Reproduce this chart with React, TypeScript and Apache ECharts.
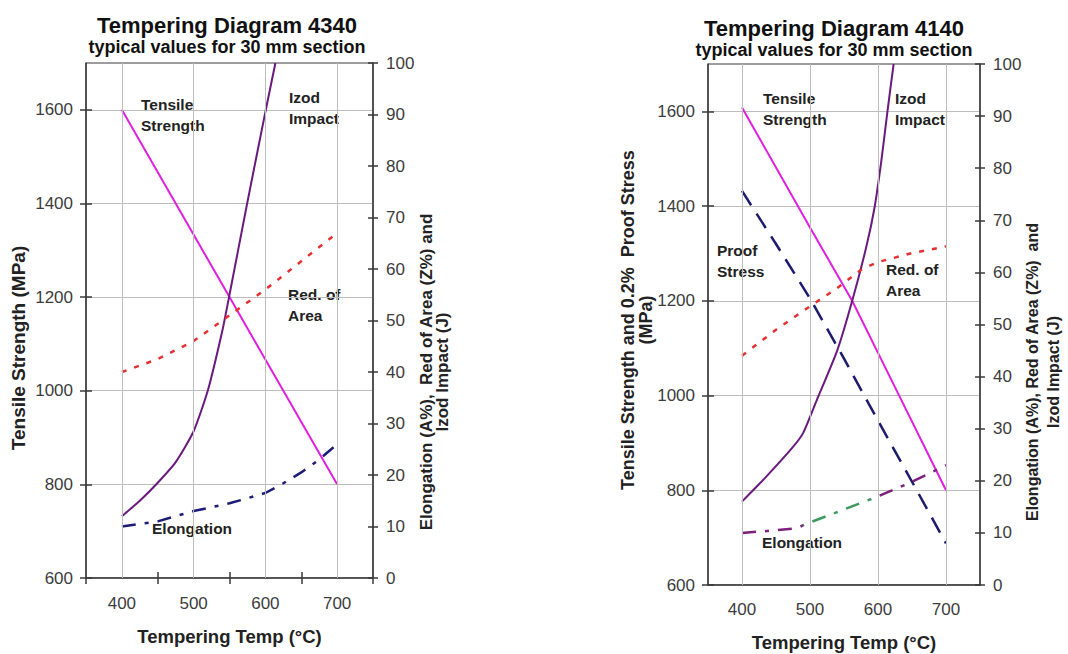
import React, { useEffect, useRef } from 'react';
import * as echarts from 'echarts';

// ---- shared axis values ----
const xTickLabels = [400, 500, 600, 700];
const xTickMarks = [350, 450, 550, 650, 750];
const xInnerMarks = [450, 550, 650];
const xGridLines = [400, 500, 600, 700];
const leftYTicks = [600, 800, 1000, 1200, 1400, 1600];

// ---- 4340 ----
const tensileT_4340 = [400, 550, 700];
const tensile_4340 = [1600, 1200, 800];
const izodT_4340 = [400, 425, 450, 475, 500, 520, 540, 550, 575, 600, 614];
const izod_4340 = [12, 15, 18.5, 22.5, 28.5, 36.5, 48, 55, 73, 90.5, 100];
const raT_4340 = [400, 450, 500, 560, 600, 650, 700];
const ra_4340 = [40, 42.5, 46, 52, 56, 61.5, 67];
const elT_4340 = [400, 450, 500, 550, 600, 625, 650, 675, 700];
const el_4340 = [10, 11, 13, 14.5, 16.5, 18.4, 20.5, 23, 26];

// ---- 4140 ----
const tensileT_4140 = [400, 500, 562, 600, 700];
const tensile_4140 = [1608, 1355, 1200, 1090, 800];
const proofT_4140 = [400, 450, 500, 550, 600, 650, 700];
const proof_4140 = [1432, 1320, 1205, 1078, 947, 818, 688];
const izodT_4140 = [400, 435, 475, 490, 510, 540, 562, 583, 595, 605, 614, 623];
const izod_4140 = [16, 20.7, 26.5, 29.2, 35.5, 45, 54.5, 65, 72.5, 81.5, 91, 100];
const raT_4140 = [400, 450, 500, 540, 575, 600, 650, 700];
const ra_4140 = [44, 49, 53.5, 57, 60.5, 62, 63.7, 65];
const elT_4140 = [400, 450, 480, 500, 550, 600, 650, 700];
const el_4140 = [10, 10.5, 10.9, 12, 14.5, 17, 19.8, 23];

const FONT = '"Liberation Sans", Arial, sans-serif';
const AXIS_COLOR = '#3a3a3a';
const GRID_COLOR = '#bdbdbd';
const LABEL_COLOR = '#3c3c3c';

const pairs = (xs: number[], ys: number[]) => xs.map((x, i) => [x, ys[i]]);
const plain = (v: number) => String(v);

function xAxes(gridIndex: number, withTicks: boolean, labelMargin: number, nameGap: number) {
  const main: any = {
    type: 'value', gridIndex, min: 350, max: 750, position: 'bottom',
    axisLine: { show: true, onZero: false, lineStyle: { color: AXIS_COLOR, width: 1.5 } },
    axisTick: { show: withTicks, customValues: xTickMarks, length: 6, inside: false, lineStyle: { color: AXIS_COLOR, width: 1.5 } },
    axisLabel: { customValues: xTickLabels, formatter: plain, color: LABEL_COLOR, fontSize: 17, fontFamily: FONT, margin: labelMargin },
    splitLine: { show: false },
    name: 'Tempering Temp (°C)', nameLocation: 'middle', nameGap,
    nameTextStyle: { fontSize: 18.5, fontWeight: 'bold', color: '#222', fontFamily: FONT },
  };
  const dup: any = {
    type: 'value', gridIndex, min: 350, max: 750, position: 'bottom',
    axisLine: { show: false, onZero: false },
    axisTick: { show: withTicks, customValues: xInnerMarks, length: 6, inside: true, lineStyle: { color: AXIS_COLOR, width: 1.5 } },
    axisLabel: { show: false },
    splitLine: { show: false },
  };
  return [main, dup];
}

function yAxes(gridIndex: number) {
  const left: any = {
    type: 'value', gridIndex, position: 'left', min: 600, max: 1700, interval: 200,
    axisLine: { show: true, lineStyle: { color: AXIS_COLOR, width: 1.5 } },
    axisTick: { show: true, customValues: leftYTicks, length: 6, lineStyle: { color: AXIS_COLOR, width: 1.5 } },
    axisLabel: { customValues: leftYTicks, formatter: plain, color: LABEL_COLOR, fontSize: 17, fontFamily: FONT, margin: 13 },
    splitLine: { show: true, lineStyle: { color: GRID_COLOR, width: 1 } },
  };
  const leftDup: any = {
    type: 'value', gridIndex, position: 'left', min: 600, max: 1700, interval: 200,
    axisLine: { show: false },
    axisTick: { show: true, inside: true, customValues: leftYTicks, length: 6, lineStyle: { color: AXIS_COLOR, width: 1.5 } },
    axisLabel: { show: false },
    splitLine: { show: false },
  };
  const right: any = {
    type: 'value', gridIndex, position: 'right', min: 0, max: 100, interval: 10,
    axisLine: { show: true, lineStyle: { color: AXIS_COLOR, width: 1.5 } },
    axisTick: { show: true, length: 5, lineStyle: { color: AXIS_COLOR, width: 1.5 } },
    axisLabel: { formatter: plain, color: LABEL_COLOR, fontSize: 17, fontFamily: FONT, margin: 13 },
    splitLine: { show: false },
  };
  const rightDup: any = {
    type: 'value', gridIndex, position: 'right', min: 0, max: 100, interval: 10,
    axisLine: { show: false },
    axisTick: { show: true, inside: true, length: 5, lineStyle: { color: AXIS_COLOR, width: 1.5 } },
    axisLabel: { show: false },
    splitLine: { show: false },
  };
  return [left, leftDup, right, rightDup];
}

const lineBase = { type: 'line', showSymbol: false, symbol: 'none', z: 3, silent: true };

const annFont = `bold 15.5px ${FONT}`;
function ann(text: string, x: number, y: number) {
  return { type: 'text', x, y, silent: true, style: { text, font: annFont, fill: '#222', lineHeight: 21 } };
}
function vname(text: string, x: number, y: number, size: number, lh: number) {
  return {
    type: 'text', x, y, rotation: Math.PI / 2, silent: true,
    style: { text, font: `bold ${size}px ${FONT}`, fill: '#222', align: 'center', verticalAlign: 'middle', lineHeight: lh },
  };
}

export default function App() {
  const ref = useRef<HTMLDivElement>(null);
  useEffect(() => {
    if (!ref.current) return;
    const chart = echarts.init(ref.current, undefined, { renderer: 'svg' });
    const gridMark = (xAxisIndex: number, yAxisIndex: number) => ({
      type: 'line', xAxisIndex, yAxisIndex, data: [], z: 1, silent: true,
      markLine: {
        silent: true, symbol: 'none', label: { show: false },
        lineStyle: { color: GRID_COLOR, width: 1, type: 'solid' },
        data: xGridLines.map((v) => ({ xAxis: v })),
      },
    });
    const titleStyle = { fontSize: 22, fontWeight: 'bold', color: '#111', fontFamily: FONT };
    const subStyle = { fontSize: 18, fontWeight: 'bold', color: '#111', fontFamily: FONT };
    const option: any = {
      animation: false,
      backgroundColor: '#ffffff',
      textStyle: { fontFamily: FONT },
      title: [
        {
          text: 'Tempering Diagram 4340', subtext: 'typical values for 30 mm section',
          left: 222, top: 9, textAlign: 'center', itemGap: 2,
          textStyle: titleStyle, subtextStyle: subStyle,
        },
        {
          text: 'Tempering Diagram 4140', subtext: 'typical values for 30 mm section',
          left: 829, top: 12, textAlign: 'center', itemGap: 2,
          textStyle: titleStyle, subtextStyle: subStyle,
        },
      ],
      grid: [
        { left: 86, top: 63, width: 287, height: 515, outerBoundsMode: 'none', containLabel: false, show: true, borderColor: AXIS_COLOR, borderWidth: 1, backgroundColor: 'transparent' },
        { left: 708, top: 64, width: 272, height: 521, outerBoundsMode: 'none', containLabel: false, show: true, borderColor: AXIS_COLOR, borderWidth: 1, backgroundColor: 'transparent' },
      ],
      xAxis: [...xAxes(0, true, 17, 49), ...xAxes(1, false, 16, 48)],
      yAxis: [...yAxes(0), ...yAxes(1)],
      visualMap: [
        {
          type: 'piecewise', show: false, seriesIndex: 10, dimension: 0,
          pieces: [
            { lt: 490, color: '#7d1f7d' },
            { gte: 490, lt: 590, color: '#3d9a5e' },
            { gte: 590, color: '#7d1f7d' },
          ],
        },
      ],
      series: [
        gridMark(0, 0),
        { ...lineBase, name: 'Tensile Strength 4340', xAxisIndex: 0, yAxisIndex: 0, data: pairs(tensileT_4340, tensile_4340), lineStyle: { color: '#e020e0', width: 2 } },
        { ...lineBase, name: 'Izod Impact 4340', xAxisIndex: 0, yAxisIndex: 2, smooth: 0.2, data: pairs(izodT_4340, izod_4340), lineStyle: { color: '#6a1a7e', width: 2 } },
        { ...lineBase, name: 'Red. of Area 4340', xAxisIndex: 0, yAxisIndex: 2, data: pairs(raT_4340, ra_4340), lineStyle: { color: '#e53030', width: 2.5, type: [5, 8] } },
        { ...lineBase, name: 'Elongation 4340', xAxisIndex: 0, yAxisIndex: 2, data: pairs(elT_4340, el_4340), lineStyle: { color: '#1c1c78', width: 2.5, type: [14, 9, 4, 9] } },
        gridMark(2, 4),
        { ...lineBase, name: 'Tensile Strength 4140', xAxisIndex: 2, yAxisIndex: 4, data: pairs(tensileT_4140, tensile_4140), lineStyle: { color: '#e020e0', width: 2 } },
        { ...lineBase, name: 'Proof Stress 4140', xAxisIndex: 2, yAxisIndex: 4, data: pairs(proofT_4140, proof_4140), lineStyle: { color: '#1c1c6e', width: 2.5, type: [17, 10] } },
        { ...lineBase, name: 'Izod Impact 4140', xAxisIndex: 2, yAxisIndex: 6, smooth: 0.2, data: pairs(izodT_4140, izod_4140), lineStyle: { color: '#6a1a7e', width: 2 } },
        { ...lineBase, name: 'Red. of Area 4140', xAxisIndex: 2, yAxisIndex: 6, data: pairs(raT_4140, ra_4140), lineStyle: { color: '#e53030', width: 2.5, type: [5, 8] } },
        { ...lineBase, name: 'Elongation 4140', xAxisIndex: 2, yAxisIndex: 6, data: pairs(elT_4140, el_4140), lineStyle: { width: 2.5, type: [14, 9, 4, 9] } },
      ],
      graphic: [
        ann('Tensile\nStrength', 141, 94),
        ann('Izod\nImpact', 289, 87),
        ann('Red. of\nArea', 288, 284),
        ann('Elongation', 152, 518),
        ann('Tensile\nStrength', 763, 88),
        ann('Izod\nImpact', 895, 88),
        ann('Proof\nStress', 717, 240),
        ann('Red. of\nArea', 886, 259),
        ann('Elongation', 762, 532),
        vname('Tensile Strength (MPa)', 18, 348, 19, 20),
        vname('Elongation (A%),  Red of Area (Z%) and\nIzod Impact (J)', 434, 372, 17, 16),
        vname('Tensile Strength and 0.2%  Proof Stress\n(MPa)', 637, 320, 18, 18),
        vname('Elongation (A%), Red of Area (Z%)  and\nIzod Impact (J)', 1043, 372, 16, 21),
      ],
    };
    chart.setOption(option);
    return () => chart.dispose();
  }, []);
  return (
    <div
      ref={ref}
      style={{ position: 'fixed', left: 0, top: 0, width: 1068, height: 654, background: '#fff' }}
    />
  );
}
